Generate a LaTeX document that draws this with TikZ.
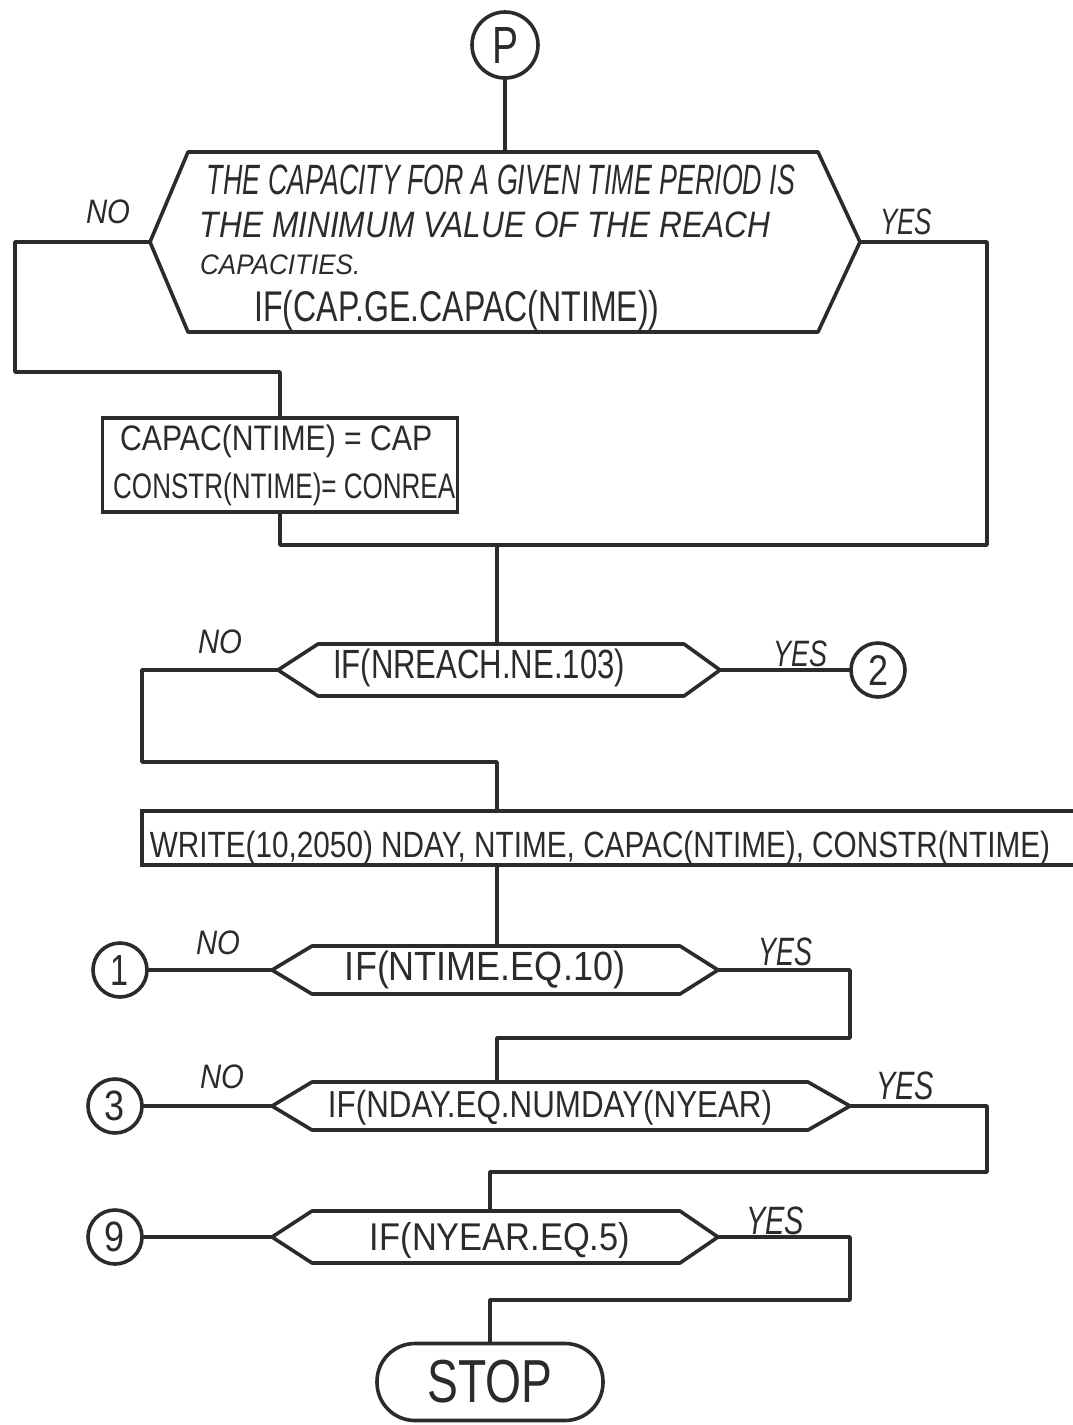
\documentclass[tikz,border=0pt]{standalone}
\usepackage{fontspec}
\setmainfont{Liberation Sans}
\usepackage{graphicx}
\definecolor{ink}{HTML}{2B2B2B}
% set a text into a box of given width and total height (in pt)
\newcommand\fitto[3]{\resizebox*{#1pt}{#2pt}{#3}}

\begin{document}
\begin{tikzpicture}[x=1pt,y=-1pt,
  flow/.style={draw=ink, line width=3.6pt, line join=round, line cap=round},
  txt/.style={inner sep=0pt, text=ink},
  conn/.style={circle, draw=ink, line width=3.6pt, minimum size=54pt, inner sep=0pt, text=ink},
  procbox/.style={rectangle, draw=ink, line width=3.6pt, inner sep=0pt},
  term/.style={rectangle, rounded corners=38pt, draw=ink, line width=3.6pt,
               minimum width=226pt, minimum height=77pt, inner sep=0pt, text=ink}]
\useasboundingbox[fill=white] (0,0) rectangle (1073,1425);

% ---- entry connector
\node[conn, minimum size=66pt] (P) at (505,45) {\fitto{26}{36}{P}};

% ---- first decision: capacity test
\coordinate (h1nw) at (188,152); \coordinate (h1ne) at (818,152);
\coordinate (h1e)  at (860,242); \coordinate (h1se) at (818,332);
\coordinate (h1sw) at (188,332); \coordinate (h1w)  at (150,242);
\coordinate (h1n)  at (505,152);
\draw[flow] (h1nw) -- (h1ne) -- (h1e) -- (h1se) -- (h1sw) -- (h1w) -- cycle;
\node[txt] (t1a) at (501,180) {\itshape\fitto{588}{30}{THE CAPACITY FOR A GIVEN TIME PERIOD IS}};
\node[txt] (t1b) at (485,225) {\itshape\fitto{570}{26}{THE MINIMUM VALUE OF THE REACH}};
\node[txt, anchor=west] (t1c) at (200,265) {\itshape\fitto{160}{20}{CAPACITIES.}};
\node[txt] (t1d) at (457,310) {\fitto{405}{40}{IF(CAP.GE.CAPAC(NTIME))}};
\node[txt] (no1) at (108,212) {\itshape\fitto{44}{24}{NO}};
\node[txt] (yes1) at (906,222) {\itshape\fitto{52}{26}{YES}};
\draw[flow] (P) -- (h1n);

% ---- assignment box
\node[procbox, minimum width=355pt, minimum height=94pt] (box) at (280,465) {};
\node[txt, anchor=west] (bx1) at (120,441) {\fitto{312}{33}{CAPAC(NTIME) = CAP}};
\node[txt, anchor=west] (bx2) at (113,489) {\fitto{342}{33}{CONSTR(NTIME)= CONREA}};

\coordinate (j1a) at (15,242);  \coordinate (j1b) at (15,372);
\draw[flow] (h1w) -- (j1a) -- (j1b) -| (box.north);
\coordinate (j2a) at (987,242); \coordinate (j2b) at (987,545);
\coordinate (m1) at (280,545);  \coordinate (m2) at (497,545);
\draw[flow] (h1e) -- (j2a) -- (j2b) -- (m1) -- (box.south);

% ---- second decision: reach number
\coordinate (h2nw) at (318,644); \coordinate (h2ne) at (684,644);
\coordinate (h2e)  at (720,670); \coordinate (h2se) at (684,696);
\coordinate (h2sw) at (318,696); \coordinate (h2w)  at (278,670);
\coordinate (h2n)  at (497,644);
\draw[flow] (h2nw) -- (h2ne) -- (h2e) -- (h2se) -- (h2sw) -- (h2w) -- cycle;
\node[txt] (t2) at (479,668) {\fitto{292}{38}{IF(NREACH.NE.103)}};
\node[txt] (no2) at (220,642) {\itshape\fitto{44}{24}{NO}};
\node[txt] (yes2) at (800,654) {\itshape\fitto{54}{26}{YES}};
\node[conn] (c2) at (878,670) {\fitto{20}{30}{2}};
\draw[flow] (m2) -- (h2n);
\draw[flow] (h2e) -- (c2);

% ---- output statement
\node[procbox, minimum width=950pt, minimum height=54pt] (wr) at (617,838) {};
\node[txt] (t3) at (600,848) {\fitto{900}{34}{WRITE(10,2050) NDAY, NTIME, CAPAC(NTIME), CONSTR(NTIME)}};
\coordinate (j3a) at (142,670); \coordinate (j3b) at (142,762);
\draw[flow] (h2w) -- (j3a) -- (j3b) -| (wr.north -| h2n);

% ---- third decision: time period
\coordinate (h3nw) at (312,946); \coordinate (h3ne) at (680,946);
\coordinate (h3e)  at (718,970); \coordinate (h3se) at (680,994);
\coordinate (h3sw) at (312,994); \coordinate (h3w)  at (272,970);
\coordinate (h3n)  at (497,946);
\draw[flow] (h3nw) -- (h3ne) -- (h3e) -- (h3se) -- (h3sw) -- (h3w) -- cycle;
\node[txt] (t4) at (485,970) {\fitto{280}{38}{IF(NTIME.EQ.10)}};
\node[txt] (no3) at (218,943) {\itshape\fitto{44}{24}{NO}};
\node[txt] (yes3) at (785,952) {\itshape\fitto{54}{28}{YES}};
\node[conn] (c1) at (120,970) {\fitto{18}{30}{1}};
\draw[flow] (wr.south -| h3n) -- (h3n);
\draw[flow] (h3w) -- (c1);

% ---- fourth decision: day count
\coordinate (h4nw) at (312,1082); \coordinate (h4ne) at (808,1082);
\coordinate (h4e)  at (850,1106); \coordinate (h4se) at (808,1130);
\coordinate (h4sw) at (312,1130); \coordinate (h4w)  at (272,1106);
\coordinate (h4n)  at (497,1082);
\draw[flow] (h4nw) -- (h4ne) -- (h4e) -- (h4se) -- (h4sw) -- (h4w) -- cycle;
\node[txt] (t5) at (550,1108) {\fitto{444}{35}{IF(NDAY.EQ.NUMDAY(NYEAR)}};
\node[txt] (no4) at (222,1077) {\itshape\fitto{44}{24}{NO}};
\node[txt] (yes4) at (905,1086) {\itshape\fitto{58}{28}{YES}};
\node[conn] (c3) at (115,1106) {\fitto{20}{30}{3}};
\coordinate (j4a) at (850,970); \coordinate (j4b) at (850,1038);
\coordinate (j4c) at (497,1038);
\draw[flow] (h3e) -- (j4a) -- (j4b) -- (j4c) -- (h4n);
\draw[flow] (h4w) -- (c3);

% ---- fifth decision: year count
\coordinate (h5nw) at (312,1211); \coordinate (h5ne) at (680,1211);
\coordinate (h5e)  at (718,1237); \coordinate (h5se) at (680,1263);
\coordinate (h5sw) at (312,1263); \coordinate (h5w)  at (272,1237);
\coordinate (h5n)  at (490,1211);
\draw[flow] (h5nw) -- (h5ne) -- (h5e) -- (h5se) -- (h5sw) -- (h5w) -- cycle;
\node[txt] (t6) at (500,1240) {\fitto{260}{36}{IF(NYEAR.EQ.5)}};
\node[txt] (yes5) at (775,1221) {\itshape\fitto{58}{28}{YES}};
\node[conn] (c9) at (115,1237) {\fitto{20}{30}{9}};
\coordinate (j5a) at (987,1106); \coordinate (j5b) at (987,1172);
\coordinate (j5c) at (490,1172);
\draw[flow] (h4e) -- (j5a) -- (j5b) -- (j5c) -- (h5n);
\draw[flow] (h5w) -- (c9);

% ---- termination
\node[term] (stop) at (490,1382) {\fitto{125}{43}{STOP}};
\coordinate (j6a) at (850,1237); \coordinate (j6b) at (850,1300);
\coordinate (j6c) at (490,1300);
\draw[flow] (h5e) -- (j6a) -- (j6b) -- (j6c) -- (stop.north);
\end{tikzpicture}
\end{document}
